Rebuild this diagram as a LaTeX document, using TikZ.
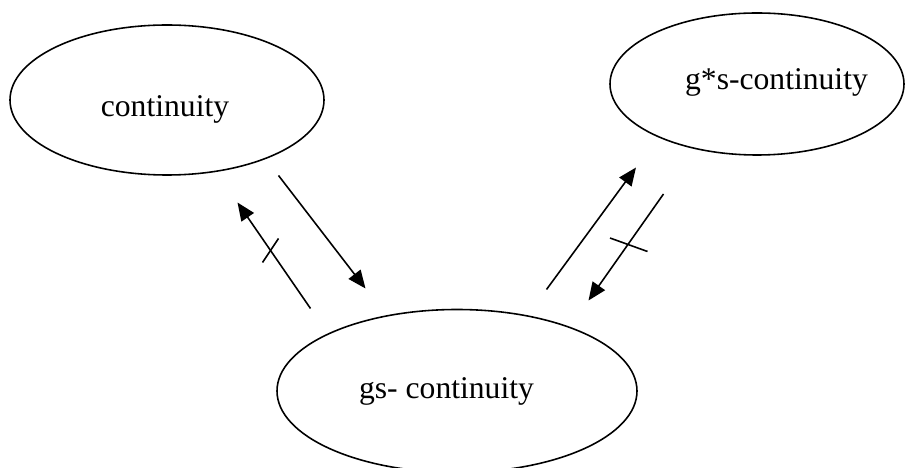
\documentclass[tikz,border=0pt]{standalone}
\usepackage{fontspec}
\setmainfont{Liberation Serif}
\usepackage{tikz}
\usetikzlibrary{arrows.meta}

\begin{document}
\begin{tikzpicture}[line width=0.9pt,
  imp/.style={-{Triangle[length=3.6mm,width=3mm]}},
  lbl/.style={anchor=base,inner sep=0pt,font=\fontsize{18}{22}\selectfont}]
 \useasboundingbox (0,0) rectangle (18.26,-9.36);
 \draw  (3.34,-2.0) ellipse (3.14 and 1.5);
 \draw  (15.14,-1.68) ellipse (2.94 and 1.42);
 \draw  (9.14,-7.82) ellipse (3.6 and 1.63);
 \node[lbl] (cont) at (3.3,-2.33) {continuity};
 \node[lbl] (gstar) at (15.53,-1.8) {g*s-continuity};
 \node[lbl] (gs) at (8.93,-7.98) {gs- continuity};
 \coordinate (v1) at (6.21,-6.17);
 \coordinate (v2) at (4.75,-4.05);
 \coordinate (v3) at (5.57,-3.51);
 \coordinate (v4) at (7.31,-5.77);
 \coordinate (v5) at (10.93,-5.79);
 \coordinate (v6) at (12.72,-3.35);
 \coordinate (v7) at (13.27,-3.88);
 \coordinate (v8) at (11.77,-6.01);
 \coordinate (t1) at (5.25,-5.25);
 \coordinate (t2) at (5.57,-4.77);
 \coordinate (t3) at (12.2,-4.76);
 \coordinate (t4) at (12.95,-5.03);
 \draw [imp] (v1) -- (v2);
 \draw [imp] (v3) -- (v4);
 \draw [imp] (v5) -- (v6);
 \draw [imp] (v7) -- (v8);
 \draw (t1) -- (t2);
 \draw (t3) -- (t4);
\end{tikzpicture}
\end{document}
